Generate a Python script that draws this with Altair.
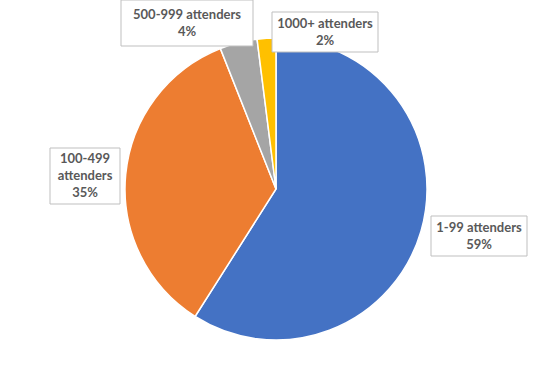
import altair as alt
import pandas as pd

categories = ["1-99 attenders", "100-499 attenders", "500-999 attenders", "1000+ attenders"]
shares = [59, 35, 4, 2]
colors = ["#4472C4", "#ED7D31", "#A5A5A5", "#FFC000"]

# label boxes (annotation layout, pixels)
label_lines = [["1-99 attenders", "59%"], ["100-499", "attenders", "35%"],
               ["500-999 attenders", "4%"], ["1000+ attenders", "2%"]]
box_x = [431, 50, 121, 272]
box_x2 = [527, 120, 253, 378]
box_y = [216, 148, 0, 12]
box_y2 = [256, 204, 46, 52]

W, H = 552, 377
pie_df = pd.DataFrame({"cat": categories, "share": shares, "order": range(len(shares))})

pie = alt.Chart(pie_df).mark_arc(stroke="white", strokeWidth=1.5, outerRadius=151).encode(
    theta=alt.Theta("share:Q", stack=True),
    order=alt.Order("order:Q"),
    color=alt.Color("cat:N", scale=alt.Scale(domain=categories, range=colors), legend=None),
    x=alt.value(276),
    y=alt.value(189),
)

box_df = pd.DataFrame({"x": box_x, "x2": box_x2, "y": box_y, "y2": box_y2})
boxes = alt.Chart(box_df).mark_rect(fill="white", stroke="#BFBFBF", strokeWidth=1).encode(
    x=alt.X("x:Q", scale=None, axis=None), x2=alt.X2("x2:Q"),
    y=alt.Y("y:Q", scale=None, axis=None), y2=alt.Y2("y2:Q"),
)

rows = []
for i, lines in enumerate(label_lines):
    cx = (box_x[i] + box_x2[i]) / 2
    cy = (box_y[i] + box_y2[i]) / 2
    n = len(lines)
    for j, t in enumerate(lines):
        rows.append({"t": t, "x": cx, "y": cy + (j - (n - 1) / 2) * 17})
txt_df = pd.DataFrame(rows)
texts = alt.Chart(txt_df).mark_text(font="Lato", fontWeight="bold", fontSize=13,
                                    color="#595959", baseline="middle", align="center").encode(
    x=alt.X("x:Q", scale=None, axis=None), y=alt.Y("y:Q", scale=None, axis=None), text="t:N"
)

chart = alt.layer(pie, boxes, texts).properties(
    width=W, height=H, autosize=alt.AutoSizeParams(type="none"), padding=0,
    view=alt.ViewBackground(stroke="white", strokeOpacity=0, strokeWidth=0),
).configure_view(stroke="white", strokeOpacity=0, strokeWidth=0).configure_axis(
    domain=False, ticks=False, labels=False, grid=False, title=None
).configure(background="white")

chart.save("out.html", embed_options={"renderer": "svg", "actions": False})
